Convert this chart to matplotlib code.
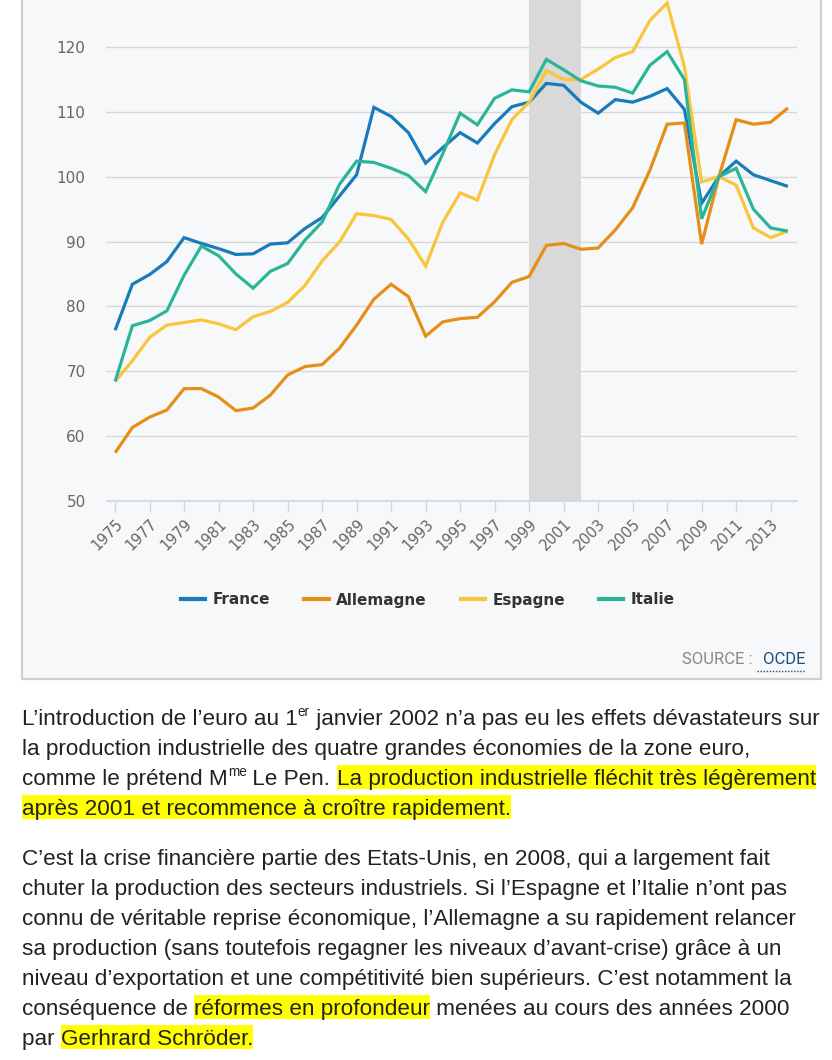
import matplotlib
matplotlib.use('Agg')
import matplotlib.pyplot as plt
from matplotlib.patches import Rectangle
from matplotlib.lines import Line2D
from matplotlib.font_manager import FontProperties

# production industrielle, base 100 en 2010 (OCDE)
years = list(range(1975, 2015))
france = [76.3, 83.4, 84.9, 86.9, 90.6, 89.7, 88.9, 88.0, 88.1, 89.6,
          89.8, 92.0, 93.7, 97.0, 100.3, 110.7, 109.3, 106.8, 102.1, 104.5,
          106.8, 105.2, 108.2, 110.8, 111.5, 114.4, 114.1, 111.5, 109.8, 111.9,
          111.5, 112.4, 113.6, 110.4, 95.9, 100.0, 102.4, 100.3, 99.4, 98.5]
allemagne = [57.4, 61.3, 62.9, 64.0, 67.3, 67.3, 66.0, 63.9, 64.3, 66.3,
             69.4, 70.7, 71.0, 73.5, 77.1, 81.1, 83.4, 81.5, 75.4, 77.6,
             78.1, 78.3, 80.7, 83.7, 84.6, 89.4, 89.7, 88.8, 89.0, 91.8,
             95.2, 101.0, 108.1, 108.3, 89.6, 100.0, 108.8, 108.1, 108.4, 110.6]
espagne = [68.4, 71.6, 75.2, 77.1, 77.5, 77.9, 77.3, 76.4, 78.4, 79.2,
           80.6, 83.2, 87.0, 89.9, 94.3, 94.0, 93.4, 90.4, 86.2, 93.0,
           97.5, 96.4, 103.4, 108.8, 111.5, 116.4, 115.0, 115.0, 116.6, 118.4,
           119.3, 124.1, 126.8, 117.0, 99.2, 100.0, 98.7, 92.1, 90.6, 91.6]
italie = [68.4, 77.0, 77.8, 79.3, 84.8, 89.3, 87.8, 85.0, 82.8, 85.4,
          86.6, 90.2, 93.0, 98.8, 102.4, 102.2, 101.3, 100.2, 97.7, 103.6,
          109.8, 108.0, 112.1, 113.4, 113.1, 118.1, 116.5, 114.8, 114.0, 113.8,
          112.9, 117.2, 119.3, 115.0, 93.5, 100.0, 101.3, 95.0, 92.1, 91.6]

series_names = ['France', 'Allemagne', 'Espagne', 'Italie']
series_colors = ['#1a7bba', '#e58f17', '#f9c53b', '#2bb598']
yticks = [50, 60, 70, 80, 90, 100, 110, 120]
xticks = list(range(1975, 2014, 2))
euro_band = (1999, 2002)

# texte sous le graphique : (morceau, style) par ligne
para1 = [
    [("L\u2019introduction de l\u2019euro au 1", 'n'), ("er", 'sup'),
     (" janvier 2002 n\u2019a pas eu les effets d\u00e9vastateurs sur", 'n')],
    [("la production industrielle des quatre grandes \u00e9conomies de la zone euro,", 'n')],
    [("comme le pr\u00e9tend M", 'n'), ("me", 'sup'), (" Le Pen. ", 'n'),
     ("La production industrielle fl\u00e9chit tr\u00e8s l\u00e9g\u00e8rement", 'hl')],
    [("apr\u00e8s 2001 et recommence \u00e0 cro\u00eetre rapidement.", 'hl')],
]
para2 = [
    [("C\u2019est la crise financi\u00e8re partie des Etats-Unis, en 2008, qui a largement fait", 'n')],
    [("chuter la production des secteurs industriels. Si l\u2019Espagne et l\u2019Italie n\u2019ont pas", 'n')],
    [("connu de v\u00e9ritable reprise \u00e9conomique, l\u2019Allemagne a su rapidement relancer", 'n')],
    [("sa production (sans toutefois regagner les niveaux d\u2019avant-crise) gr\u00e2ce \u00e0 un", 'n')],
    [("niveau d\u2019exportation et une comp\u00e9titivit\u00e9 bien sup\u00e9rieurs. C\u2019est notamment la", 'n')],
    [("cons\u00e9quence de ", 'n'), ("r\u00e9formes en profondeur", 'hl'),
     (" men\u00e9es au cours des ann\u00e9es 2000", 'n')],
    [("par ", 'n'), ("Gerhrard Schr\u00f6der.", 'hl')],
]

W, H = 832, 1060
fig = plt.figure(figsize=(W / 100, H / 100), dpi=100)
fig.patch.set_facecolor('white')

# cadre gris clair du graphique (sous tout le reste)
fig.patches.append(Rectangle((22 / W, 1 - 679 / H), (821 - 22) / W, 679 / H + 0.05,
                             transform=fig.transFigure, facecolor='#f7f8fa',
                             edgecolor='#cfd0d2', lw=1.6, zorder=-5))

ax = fig.add_axes([106.5 / W, 1 - 500.7 / H, 690 / W, 500.7 / H])
ax.set_facecolor('none')
ax.set_xlim(1974.5, 2014.5)
ax.set_ylim(50, 50 + 500.7 / 6.48)

ax.axvspan(euro_band[0], euro_band[1], color='#d9d9d9', lw=0, zorder=1)
for vals, name, col in zip([france, allemagne, espagne, italie], series_names, series_colors):
    ax.plot(years, vals, color=col, lw=2.3, label=name, zorder=3,
            solid_joinstyle='miter', solid_capstyle='butt')

ax.set_yticks(yticks)
ax.set_xticks(xticks)
ax.set_xticklabels([str(y) for y in xticks], rotation=45, ha='right',
                   rotation_mode='anchor', color='#666666', fontsize=10.5)
ax.tick_params(axis='y', length=0, pad=15, labelcolor='#666666', labelsize=11)
ax.tick_params(axis='x', length=8, width=1, color='#ccd6eb', pad=3)
ax.grid(axis='y', color='#d8d8d8', lw=1, zorder=0)
ax.set_axisbelow(True)
for s in ['top', 'left', 'right']:
    ax.spines[s].set_visible(False)
ax.spines['bottom'].set_color('#ccd6eb')
ax.spines['bottom'].set_linewidth(1.2)

handles = [Line2D([], [], color=c, lw=3) for c in series_colors]
fig.legend(handles, series_names, loc='center', bbox_to_anchor=(428 / W, 1 - 600 / H),
           ncol=4, frameon=False, handlelength=1.6, handletextpad=0.5,
           columnspacing=2.2, prop={'weight': 'bold', 'size': 11},
           labelcolor='#333333')

# calque en pixels pour les textes (sans fond)
tx = fig.add_axes([0, 0, 1, 1], zorder=-1)
tx.patch.set_visible(False)
tx.set_xlim(0, W)
tx.set_ylim(H, 0)
tx.axis('off')

tx.text(753, 660, "SOURCE :", ha='right', va='center', color='#888888', fontsize=12,
        family='Roboto')
tx.text(805, 660, "OCDE", ha='right', va='center', color='#1d4f80', fontsize=12,
        family='Roboto')
tx.plot([757, 805], [671, 671], color='#1d4f80', lw=1, ls=(0, (1, 1.2)))

renderer = fig.canvas.get_renderer()
fs = 16.2
font_n = FontProperties(family='Liberation Sans', size=fs)
font_s = FontProperties(family='Liberation Sans', size=fs * 0.6)


def width(s, prop):
    # largeur avec les espaces en bord de chaîne
    w1 = renderer.get_text_width_height_descent('|' + s + '|', prop, ismath=False)[0]
    w0 = renderer.get_text_width_height_descent('||', prop, ismath=False)[0]
    return w1 - w0


def draw_para(lines, y0):
    base = y0
    for segs in lines:
        x = 22
        for s, kind in segs:
            prop = font_s if kind == 'sup' else font_n
            dy = -9 if kind == 'sup' else 0
            w = width(s, prop)
            if kind == 'hl':
                tx.add_patch(Rectangle((x, base - 20), w, 23.5, facecolor='#ffff00',
                                       edgecolor='none', zorder=1))
            tx.text(x, base + dy, s, fontproperties=prop, color='#222222',
                    ha='left', va='baseline', zorder=2)
            x += w
        base += 30


draw_para(para1, 725)
draw_para(para2, 865)

fig.savefig('out.png', dpi=100)
